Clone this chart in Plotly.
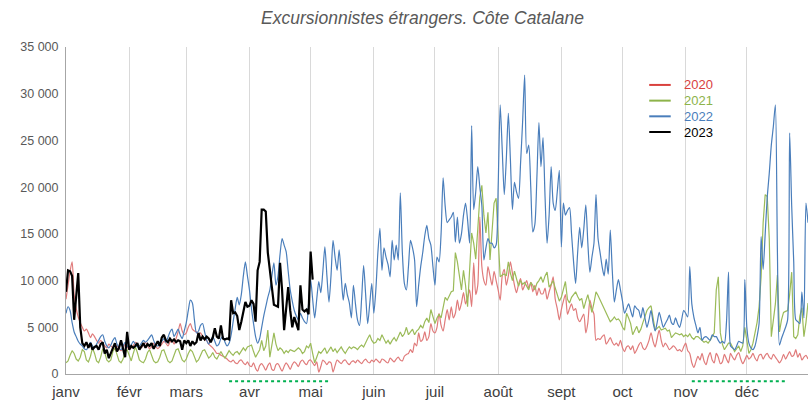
import plotly.graph_objects as go

# Daily foreign day-trippers, in thousands (day 0 = 1 January)
excursionnistes_2020 = [
    8.0, 9.5, 11.0, 12.0, 8.5, 7.0, 6.1, 5.5, 5.0, 4.6, 4.8, 4.4, 3.9, 4.3, 4.0, 3.6, 3.3, 3.6, 3.3, 3.0, 2.8, 3.2, 3.0, 2.8, 2.6, 3.0, 2.7, 2.5, 2.8, 3.2, 2.9,
    2.6, 2.8, 3.0, 3.4, 3.2, 3.0, 2.8, 3.1, 3.4, 3.0, 2.7, 2.9, 3.3, 3.0, 2.7, 2.9, 3.2, 3.5, 3.3, 3.0, 3.4, 3.6, 3.2, 3.8, 4.5, 5.4, 4.6, 4.2,
    4.4, 5.0, 5.4, 4.8, 4.6, 4.5, 4.2, 4.4, 4.0, 3.7, 3.6, 3.2, 3.0, 2.8, 2.5, 2.2, 2.2, 2.0, 1.9, 1.8, 1.6, 1.4, 1.3, 1.5, 1.2, 1.1, 1.4, 1.5, 1.2, 1.0, 1.3,
    0.9, 0.8, 1.2, 0.6, 0.3, 0.9, 1.1, 0.8, 0.4, 0.9, 1.2, 0.5, 0.4, 1.0, 1.1, 0.7, 0.3, 0.8, 1.2, 0.9, 0.5, 1.0, 1.3, 1.1, 0.8, 1.3, 1.5, 1.2, 1.0, 1.4,
    1.5, 1.2, 0.9, 1.3, 0.2, 0.8, 1.5, 1.3, 1.0, 1.3, 1.2, 0.2, 0.9, 1.5, 1.3, 1.1, 1.4, 1.5, 1.2, 1.0, 1.3, 1.4, 1.2, 1.5, 1.3, 1.1, 1.4, 1.6, 1.3, 1.2, 1.5,
    1.3, 1.6, 1.4, 1.2, 1.6, 1.5, 1.3, 1.2, 1.7, 1.5, 1.3, 1.6, 1.8, 1.5, 1.4, 1.9, 2.1, 2.2, 2.6, 2.3, 3.3, 3.0, 4.4, 3.5, 3.7, 4.5, 3.6, 4.0, 5.4, 4.6,
    4.4, 5.0, 6.5, 5.2, 4.6, 5.8, 6.9, 5.8, 7.2, 6.0, 6.5, 7.9, 6.8, 7.6, 8.7, 7.5, 8.2, 9.0, 7.2, 11.9, 8.5, 9.5, 16.8, 11.5, 10.0, 9.5, 11.5, 10.5, 9.5, 11.0, 10.0,
    9.0, 7.9, 10.5, 11.2, 9.5, 10.5, 12.0, 10.8, 9.5, 8.7, 9.6, 10.2, 9.0, 9.5, 10.0, 9.2, 9.8, 8.8, 9.5, 8.4, 9.2, 8.6, 8.6, 9.2, 8.0, 8.8, 9.5, 10.4, 8.0, 7.0, 5.8,
    6.9, 7.8, 8.5, 6.4, 7.0, 7.5, 6.8, 7.0, 6.0, 5.6, 6.0, 6.4, 4.4, 5.5, 7.9, 7.0, 6.4, 3.6, 3.8, 3.7, 4.0, 4.2, 3.2, 3.5, 3.9, 3.4, 3.1, 3.3, 3.0, 3.6,
    2.8, 2.4, 2.9, 3.0, 2.6, 3.0, 2.2, 2.6, 3.1, 3.4, 2.8, 2.6, 3.0, 3.6, 4.4, 3.5, 2.9, 3.8, 4.7, 3.6, 2.9, 3.3, 3.0, 2.6, 2.8, 3.0, 2.8, 2.5, 2.6, 2.4, 2.9,
    3.3, 2.5, 2.2, 1.2, 0.7, 1.3, 1.9, 1.5, 2.2, 1.4, 1.0, 1.8, 2.3, 1.5, 1.2, 2.2, 1.8, 1.1, 1.3, 2.1, 1.6, 1.2, 2.2, 1.8, 1.5, 2.0, 2.3, 1.6, 1.1, 1.5,
    2.0, 1.6, 1.8, 2.2, 1.7, 1.4, 2.0, 2.1, 1.6, 2.0, 2.2, 1.8, 1.6, 2.1, 1.8, 1.5, 1.2, 1.5, 2.1, 1.6, 2.0, 2.4, 1.9, 2.0, 2.6, 1.8, 2.2, 1.5, 1.8, 2.0, 1.6,
]

excursionnistes_2021 = [
    1.2, 1.4, 2.0, 2.5, 2.2, 1.6, 1.4, 1.8, 2.6, 2.4, 1.5, 1.3, 1.9, 2.8, 2.2, 1.4, 1.2, 1.8, 2.7, 2.3, 1.5, 1.3, 1.5, 2.4, 2.8, 2.0, 1.4, 1.2, 1.6, 2.4, 2.6,
    2.0, 1.4, 2.2, 2.9, 2.3, 1.5, 1.3, 1.2, 1.6, 2.3, 2.6, 2.0, 1.4, 1.2, 1.3, 1.8, 2.5, 2.6, 1.9, 1.4, 1.2, 1.4, 2.0, 2.6, 2.7, 2.1, 1.5, 1.3,
    1.6, 2.2, 2.6, 2.4, 1.8, 1.3, 1.5, 2.0, 2.5, 2.6, 2.1, 1.7, 1.9, 2.3, 1.8, 1.6, 2.0, 2.4, 2.0, 1.7, 2.1, 2.5, 2.2, 2.0, 2.3, 2.4, 2.1, 2.5, 2.8, 2.5, 2.9,
    3.0, 3.1, 2.4, 1.8, 2.2, 2.6, 3.6, 2.5, 3.0, 4.7, 1.8, 3.0, 4.4, 3.2, 2.5, 2.8, 2.6, 2.2, 2.5, 2.3, 2.6, 2.5, 2.4, 2.6, 2.8, 2.6, 2.2, 2.4, 3.0, 2.8,
    3.3, 2.2, 1.2, 1.8, 2.4, 2.2, 2.5, 2.8, 2.2, 2.5, 2.9, 2.4, 2.7, 2.3, 2.6, 2.9, 2.5, 2.2, 2.6, 2.9, 2.7, 2.9, 2.8, 2.6, 2.9, 3.1, 2.9, 3.4, 3.8, 4.2, 3.6,
    3.3, 3.4, 3.8, 3.6, 4.2, 3.7, 3.3, 3.6, 3.2, 3.6, 3.9, 3.5, 4.0, 4.5, 4.0, 4.3, 5.0, 4.2, 4.5, 4.8, 4.2, 4.6, 4.8, 5.2, 4.9, 5.6, 6.0, 5.5, 6.9, 6.2,
    5.4, 6.0, 6.4, 6.0, 7.0, 8.2, 7.9, 8.3, 8.8, 8.9, 13.0, 12.0, 10.5, 9.0, 11.1, 9.5, 7.2, 12.0, 15.1, 14.0, 12.3, 15.5, 18.9, 20.2, 17.0, 15.1, 17.3, 12.2, 15.0, 18.3, 18.8,
    14.0, 10.4, 10.6, 10.7, 10.5, 12.0, 10.8, 10.0, 11.0, 10.2, 9.4, 10.0, 9.6, 9.8, 9.4, 9.0, 9.8, 9.5, 9.0, 9.7, 10.0, 10.4, 9.8, 10.5, 10.9, 9.3, 9.6, 10.0, 9.2, 8.6, 7.8,
    8.2, 9.0, 9.9, 8.0, 7.6, 8.2, 8.5, 8.8, 8.3, 7.9, 8.1, 7.0, 7.8, 8.5, 7.5, 6.6, 7.6, 8.8, 8.4, 7.9, 7.5, 7.1, 6.4, 6.0, 5.6, 5.8, 6.1, 5.8, 5.9, 5.6,
    5.0, 4.7, 6.5, 6.0, 5.4, 4.2, 4.6, 5.1, 4.4, 4.8, 5.5, 6.2, 6.8, 7.1, 7.3, 6.0, 4.7, 4.9, 5.1, 4.7, 4.8, 4.9, 4.6, 4.7, 3.9, 4.2, 4.4, 4.3, 4.2, 4.3, 4.0,
    4.2, 4.0, 4.3, 3.9, 3.7, 4.0, 4.0, 3.8, 3.6, 3.4, 3.5, 3.3, 3.6, 4.0, 4.4, 9.0, 10.4, 4.4, 3.2, 2.6, 3.0, 3.3, 3.3, 2.8, 2.4, 2.7, 3.0, 2.4, 3.0, 5.0,
    3.5, 2.2, 2.6, 3.3, 4.4, 5.5, 7.2, 10.4, 16.2, 19.2, 19.0, 14.5, 4.0, 6.0, 7.5, 10.6, 4.5, 5.8, 6.6, 6.7, 6.8, 8.5, 10.9, 4.0, 3.8, 4.2, 6.2, 7.1, 4.0, 5.5, 7.6,
]

excursionnistes_2022 = [
    6.5, 7.2, 6.8, 5.5, 4.5, 4.0, 3.5, 3.2, 3.0, 2.7, 2.6, 3.0, 3.4, 3.0, 2.8, 3.2, 3.6, 4.0, 4.2, 3.5, 3.0, 2.8, 3.1, 3.6, 3.9, 3.2, 2.8, 2.6, 3.0, 3.4, 3.0,
    2.8, 3.1, 3.5, 3.2, 2.9, 3.0, 3.3, 3.6, 3.4, 3.6, 3.9, 4.2, 3.6, 3.1, 3.0, 3.3, 3.5, 3.8, 3.4, 3.9, 4.5, 4.8, 4.0, 4.4, 4.8, 4.2, 3.8, 4.6,
    5.5, 6.8, 7.9, 7.6, 5.8, 4.4, 4.6, 5.2, 5.4, 4.5, 3.6, 3.2, 3.6, 4.0, 3.5, 3.0, 3.2, 3.8, 4.0, 3.4, 3.0, 3.3, 4.2, 5.6, 7.0, 8.2, 7.4, 8.5, 10.5, 12.0, 10.5,
    9.0, 7.0, 5.4, 4.0, 3.3, 3.8, 5.0, 6.2, 7.2, 8.2, 9.0, 10.5, 11.9, 9.5, 10.5, 12.8, 14.5, 13.8, 13.1, 11.0, 9.0, 7.8, 6.8, 6.2, 5.8, 6.5, 6.0, 5.6, 5.4, 7.5,
    10.1, 8.0, 6.0, 8.0, 9.9, 8.7, 11.0, 13.6, 10.5, 7.7, 10.5, 14.3, 12.5, 11.1, 13.3, 10.5, 7.9, 9.7, 8.5, 7.6, 6.0, 9.5, 7.5, 5.8, 5.2, 8.0, 11.6, 8.5, 5.4, 7.5, 9.7,
    6.5, 9.0, 13.0, 15.6, 11.1, 13.5, 12.5, 11.7, 10.4, 14.3, 12.2, 13.8, 12.2, 19.4, 13.0, 9.7, 9.0, 11.5, 14.3, 13.5, 12.2, 7.2, 9.5, 11.5, 13.0, 14.8, 15.9, 14.5, 13.8, 11.5,
    9.5, 12.5, 12.0, 15.0, 21.0, 18.0, 16.2, 16.5, 16.8, 17.3, 14.1, 16.8, 14.0, 15.0, 17.0, 18.3, 16.5, 14.0, 26.6, 17.6, 19.5, 22.2, 20.0, 18.0, 12.2, 13.5, 14.5, 14.0, 14.0, 13.5, 13.8,
    20.0, 28.8, 24.0, 19.2, 23.0, 27.9, 23.0, 17.6, 20.5, 19.5, 18.8, 22.6, 27.0, 32.0, 23.6, 24.5, 20.0, 15.2, 16.0, 21.0, 26.9, 22.2, 25.3, 19.0, 14.0, 17.0, 22.2, 18.3, 17.5, 19.5, 21.8,
    13.6, 18.3, 17.0, 17.5, 17.8, 15.0, 12.0, 9.7, 13.0, 15.7, 13.5, 15.5, 18.1, 14.0, 10.9, 12.5, 14.0, 19.2, 14.5, 13.0, 11.5, 10.5, 12.3, 10.7, 15.4, 11.0, 7.7, 9.0, 10.1, 9.0,
    7.8, 6.5, 7.0, 7.5, 6.8, 6.1, 7.3, 7.0, 6.8, 6.0, 7.1, 6.0, 5.0, 5.8, 6.8, 5.5, 4.6, 5.5, 6.6, 5.8, 5.0, 5.4, 5.8, 6.3, 5.5, 5.3, 6.0, 5.4, 5.0, 5.8, 6.8,
    6.5, 6.1, 11.5, 7.5, 6.1, 5.2, 4.4, 5.0, 3.6, 3.9, 4.0, 3.8, 3.6, 4.2, 4.0, 4.0, 3.6, 3.3, 3.5, 3.3, 5.5, 10.9, 3.0, 2.8, 2.6, 3.0, 3.5, 3.4, 3.3, 10.1,
    5.0, 3.3, 2.8, 2.6, 3.0, 4.0, 5.4, 14.7, 11.2, 15.0, 18.9, 21.5, 24.5, 26.5, 28.8, 13.0, 3.1, 3.8, 4.4, 5.0, 5.8, 25.8, 18.0, 12.0, 5.8, 5.6, 5.4, 8.8, 6.0, 18.3, 16.2,
]

excursionnistes_2023 = [
    8.8, 11.1, 11.0, 10.5, 5.8, 8.0, 10.8, 5.0, 3.3, 3.0, 3.4, 2.8, 3.3, 2.6, 2.9, 3.0, 2.6, 3.2, 3.4, 2.2, 2.6, 1.7, 2.2, 2.8, 3.3, 2.4, 2.8, 3.6, 2.6, 1.8, 4.5,
    2.6, 3.0, 2.8, 3.0, 3.3, 2.6, 3.0, 3.3, 2.8, 3.2, 3.0, 3.3, 2.7, 3.1, 3.5, 3.0, 3.9, 4.2, 3.6, 3.4, 3.8, 3.5, 3.7, 3.4, 3.6, 3.5, 2.6, 3.6,
    3.3, 3.6, 3.0, 3.5, 3.2, 3.4, 4.4, 3.6, 4.0, 3.7, 4.0, 3.8, 3.4, 3.9, 4.9, 4.0, 3.8, 5.2, 3.8, 3.7, 3.8, 3.7, 7.9, 6.5, 6.6, 6.2, 4.7, 5.6, 6.5, 7.7, 7.2,
    7.3, 7.9, 7.5, 5.6, 11.1, 12.0, 17.6, 17.6, 17.4, 13.0, 11.0, 9.7, 7.4, 7.3, 7.2, 11.9, 9.0, 4.7, 7.2, 9.3, 6.8, 5.0, 6.1, 5.5, 4.7, 9.5, 6.9, 6.7, 6.9, 6.4, 13.1, 10.1,
]

years = ["2020", "2021", "2022", "2023"]
year_colors = ["#e07b7b", "#9bbb59", "#4a7ebb", "#000000"]
legend_colors = ["#d9413e", "#8db34a", "#4a7ebb", "#000000"]

months = ["janv", "févr", "mars", "avr", "mai", "juin", "juil", "août", "sept", "oct", "nov", "déc"]
month_starts = [0, 31, 59, 90, 120, 151, 181, 212, 243, 273, 304, 334]

y_ticks = [0, 5, 10, 15, 20, 25, 30, 35]
y_labels = ["0", "5 000", "10 000", "15 000", "20 000", "25 000", "30 000", "35 000"]

# confinement periods (day numbers) marked under the axis
confinements = [(80, 130), (307, 353)]

series = [excursionnistes_2020, excursionnistes_2021, excursionnistes_2022, excursionnistes_2023]

fig = go.Figure()

for i, values in enumerate(series):
    smooth = years[i] in ("2020", "2022")
    fig.add_trace(go.Scatter(
        x=list(range(len(values))),
        y=values,
        mode="lines",
        name=years[i],
        showlegend=False,
        line=dict(
            color=year_colors[i],
            width=2.2 if years[i] == "2023" else 1.2,
            shape="spline" if smooth else "linear",
            smoothing=0.7 if smooth else None,
        ),
    ))

# hand-made legend (Excel style: tight rows, coloured labels)
leg_x0, leg_x1, leg_text_x = 0.786, 0.815, 0.830
leg_top, leg_step = 0.884, 0.048
for i, year in enumerate(years):
    yy = leg_top - i * leg_step
    fig.add_shape(
        type="line", xref="paper", yref="paper",
        x0=leg_x0, x1=leg_x1, y0=yy, y1=yy,
        line=dict(color=legend_colors[i], width=2),
    )
    fig.add_annotation(
        x=leg_text_x, y=yy, xref="paper", yref="paper",
        xanchor="left", yanchor="middle",
        text=year, showarrow=False,
        font=dict(size=13, color=legend_colors[i]),
    )

for start, end in confinements:
    fig.add_shape(
        type="line", xref="x", yref="paper",
        x0=start, x1=end, y0=-0.022, y1=-0.022,
        line=dict(color="#00b050", width=2, dash="dot"),
    )

fig.update_layout(
    width=808,
    height=404,
    margin=dict(l=66, r=0, t=47, b=30),
    paper_bgcolor="white",
    plot_bgcolor="white",
    font=dict(family="Liberation Sans, Arial, sans-serif", color="#595959"),
    title=dict(
        text="<i>Excursionnistes étrangers. Côte Catalane</i>",
        x=0.523, xref="container", xanchor="center",
        y=0.955, yref="container", yanchor="middle",
        font=dict(size=17.5, color="#595959"),
    ),
    showlegend=False,
)

fig.update_xaxes(
    range=[0, 364],
    tickmode="array",
    tickvals=month_starts,
    ticktext=months,
    showgrid=True,
    gridcolor="#d9d9d9",
    gridwidth=1,
    showline=True,
    linecolor="#a6a6a6",
    linewidth=1,
    ticks="",
    ticklabelstandoff=4,
    tickfont=dict(size=15, color="#404040"),
    zeroline=False,
)

fig.update_yaxes(
    range=[0, 35],
    tickmode="array",
    tickvals=y_ticks,
    ticktext=y_labels,
    showgrid=False,
    showline=True,
    linecolor="#a6a6a6",
    linewidth=1,
    ticks="",
    ticklabelstandoff=4,
    tickfont=dict(size=12.5, color="#595959"),
    zeroline=False,
)

fig.write_html(
    "out.html",
    config={"displayModeBar": False},
    post_script="document.body.style.margin='0';",
)
